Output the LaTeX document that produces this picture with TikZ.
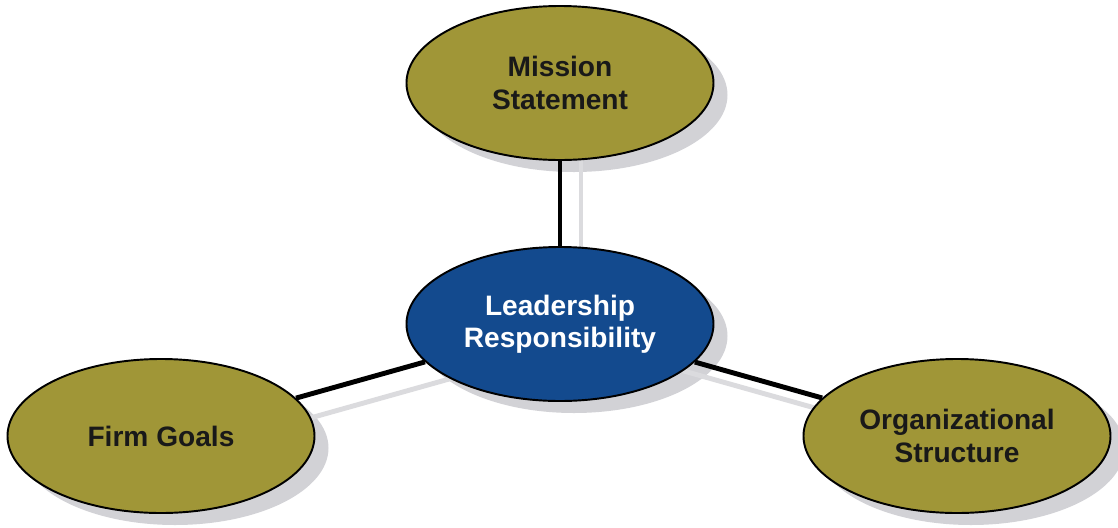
\documentclass[tikz,border=0pt]{standalone}
\usepackage{fontspec}
\setmainfont{Liberation Sans}
\definecolor{olivefill}{HTML}{A09637}
\definecolor{leadblue}{HTML}{134A8E}
\definecolor{shadegray}{HTML}{D2D2D6}
\pgfdeclarelayer{shade}
\pgfsetlayers{shade,main}
\tikzset{
  bubble/.style = {ellipse, draw = black, line width = 1.1pt, minimum width = 6.14cm,
    minimum height = 3.08cm, inner sep = 0pt, align = center,
    font = \bfseries\fontsize{16}{18.4}\selectfont},
  goal/.style = {bubble, fill = olivefill, text = black!90},
  core/.style = {bubble, fill = leadblue, text = white},
  blob/.style = {ellipse, fill = shadegray, minimum width = 6.14cm, minimum height = 3.08cm, inner sep = 0pt},
  link/.style = {line width = 2.8pt, black},
  linkshade/.style = {line width = 2.8pt, shadegray!80}
}
\usetikzlibrary{shapes.geometric}
\begin{document}
\begin{tikzpicture}
  \useasboundingbox (0, 0) rectangle (22.36, -10.56);
  % the four bubbles
  \node[goal] (mission) at (11.2, -1.66) {Mission\\Statement};
  \node[core] (lead) at (11.2, -6.48) {Leadership\\Responsibility};
  \node[goal] (firm) at (3.22, -8.72) {Firm Goals};
  \node[goal] (org) at (19.14, -8.72) {Organizational\\Structure};
  % lines
  \draw[link] (mission) -- (lead);
  \draw[link] (lead) -- (firm);
  \draw[link] (lead) -- (org);
  % shadows
  \begin{pgfonlayer}{shade}
    \foreach \n in {mission, lead, firm, org}
      \node[blob] (\n-blob) at ([shift = {(0.28, -0.24)}]\n.center) {};
    \draw[linkshade] ([shift = {(0.42, -0.36)}]mission.center) -- ([shift = {(0.42, -0.36)}]lead.center);
    \draw[linkshade] ([shift = {(0.42, -0.36)}]lead.center) -- ([shift = {(0.42, -0.36)}]firm.center);
    \draw[linkshade] ([shift = {(0.42, -0.36)}]lead.center) -- ([shift = {(0.42, -0.36)}]org.center);
  \end{pgfonlayer}
\end{tikzpicture}
\end{document}
